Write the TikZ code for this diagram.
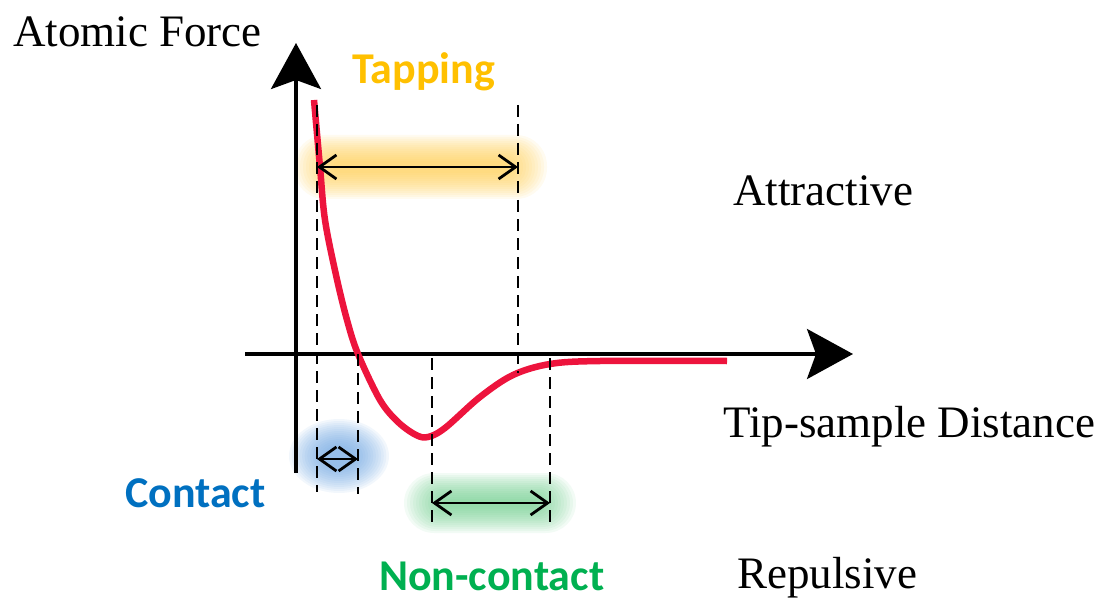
\documentclass[tikz,border=0pt]{standalone}
\usepackage{fontspec}
\setmainfont{Liberation Serif}
\newfontfamily\modefont{Carlito}
\usetikzlibrary{arrows.meta}
\definecolor{curvered}{RGB}{237,20,61}
\definecolor{tapcol}{RGB}{255,192,0}
\definecolor{contcol}{RGB}{0,112,192}
\definecolor{noncol}{RGB}{0,176,80}
\definecolor{tapglow}{RGB}{255,205,80}
\definecolor{contglow}{RGB}{110,165,225}
\definecolor{nonglow}{RGB}{110,205,140}

\begin{document}
\begin{tikzpicture}[x=1pt,y=-1pt,
		axis/.style={line width=3.5pt,-{Stealth[length=46pt,width=50pt,inset=9pt]}},
		guide/.style={line width=1.6pt,dash pattern=on 12pt off 7pt},
		span/.style={line width=2.8pt,{Straight Barb[length=17pt,width=24pt]}-{Straight Barb[length=17pt,width=24pt]}},
		serif/.style={font=\fontsize{45}{50}\selectfont,inner sep=0pt,anchor=base west},
		mode/.style={font=\modefont\bfseries\fontsize{44}{50}\selectfont,inner sep=0pt,anchor=base west}]
		\useasboundingbox (0,0) rectangle (1109,599);
		% glows behind the ranges
		\foreach \i in {0,...,13} {
			\fill[tapglow,opacity=0.085,rounded corners={(31-2*\i)*1pt}] (294+3*\i,135+2*\i) rectangle (547-3*\i,199-2*\i);
			\fill[nonglow,opacity=0.085,rounded corners={(30-2*\i)*1pt}] (404+3*\i,473+2*\i) rectangle (576-3*\i,533-2*\i);
			\fill[contglow,opacity=0.085] (339,456) ellipse ({(50-2.6*\i)*1pt} and {(37-2*\i)*1pt});
		}
		% axes
		\coordinate (ybot) at (296,473);
		\coordinate (ytop) at (296,43);
		\coordinate (xleft) at (245,354);
		\coordinate (xright) at (853,354);
		\draw[axis] (ybot) -- (ytop);
		\draw[axis] (xleft) -- (xright);
		% force curve
		\draw[curvered,line width=6.5pt] plot[smooth,tension=0.55] coordinates {
			(314,100) (320,167) (325,220) (336,275) (347,320) (358,354) (380,400)
			(398,422) (416,435) (428,437) (445,428) (480,397) (513,375) (550,364)
			(600,361) (727,361)};
		% guide lines
		\coordinate (g1t) at (317,105);  \coordinate (g1b) at (317,492);
		\coordinate (g2t) at (358,354);  \coordinate (g2b) at (358,494);
		\coordinate (g3t) at (432,358);  \coordinate (g3b) at (432,523);
		\coordinate (g4t) at (518,105);  \coordinate (g4b) at (518,373);
		\coordinate (g5t) at (550,358);  \coordinate (g5b) at (550,523);
		\foreach \g in {g1,g2,g3,g4,g5}
			\draw[guide] (\g t) -- (\g b);
		% ranges
		\coordinate (tapl) at (317,167);  \coordinate (tapr) at (518,167);
		\coordinate (contl) at (317,459); \coordinate (contr) at (358,459);
		\coordinate (nonl) at (432,503);  \coordinate (nonr) at (550,503);
		\draw[span] (tapl) -- (tapr);
		\draw[span] (contl) -- (contr);
		\draw[span] (nonl) -- (nonr);
		% labels
		\node[serif] (force) at (13,47) {Atomic Force};
		\node[serif] (attr) at (733,205) {Attractive};
		\node[serif] (dist) at (723,437) {Tip-sample Distance};
		\node[serif] (rep) at (737,588) {Repulsive};
		\node[mode,text=tapcol] (tap) at (352,84) {Tapping};
		\node[mode,text=contcol] (cont) at (125,507) {Contact};
		\node[mode,text=noncol] (non) at (379,590) {Non-contact};
\end{tikzpicture}
\end{document}
